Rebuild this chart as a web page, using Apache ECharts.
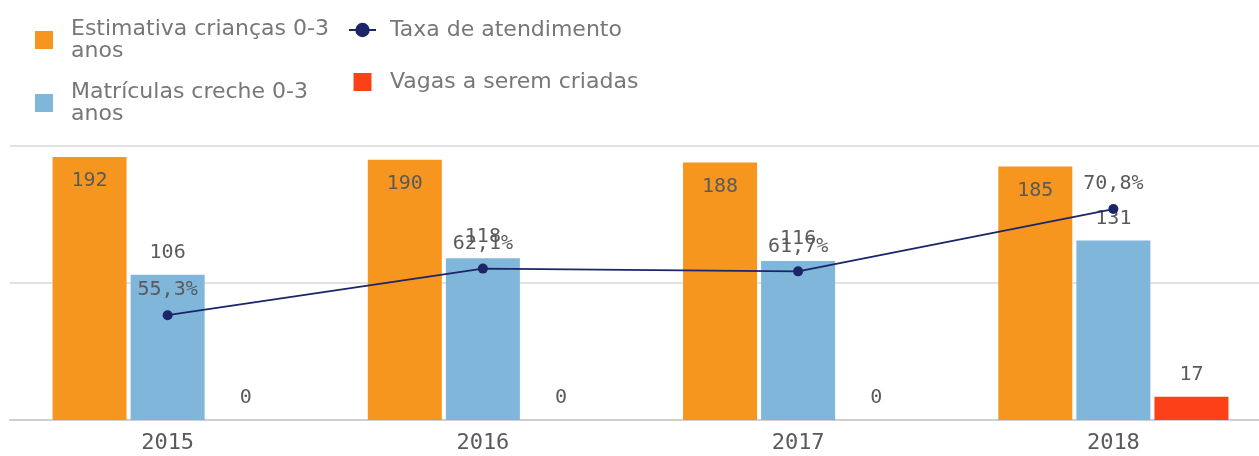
<!DOCTYPE html>
<html>
<head>
<meta charset="utf-8">
<script src="https://cdn.jsdelivr.net/npm/echarts@6/dist/echarts.min.js"></script>
<style>
  html, body { margin: 0; padding: 0; background: #fff; }
  #chart { width: 1259px; height: 456px; }
</style>
</head>
<body>
<div id="chart"></div>
<script>
const years = ["2015", "2016", "2017", "2018"];
const estimativa = [192, 190, 188, 185];
const matriculas = [106, 118, 116, 131];
const vagas = [0, 0, 0, 17];
const taxa = [55.3, 62.1, 61.7, 70.8];

const NAME_EST = "Estimativa crianças 0-3 anos";
const NAME_MAT = "Matrículas creche 0-3 anos";
const NAME_TAXA = "Taxa de atendimento";
const NAME_VAGAS = "Vagas a serem criadas";

const numFont = "DejaVu Sans Mono";
const txtFont = "DejaVu Sans";
const labelColor = "#5a5a5a";

const chart = echarts.init(document.getElementById("chart"), null, { renderer: "canvas" });

const legendText = {
  color: "#777777",
  fontFamily: txtFont,
  fontSize: 22,
  lineHeight: 22,
};

const valueLabel = (pos) => ({
  show: true,
  position: pos,
  distance: 12,
  color: labelColor,
  fontFamily: numFont,
  fontSize: 20,
});

chart.setOption({
  animation: false,
  legend: [
    {
      left: 30, top: 13, orient: "vertical", icon: "rect",
      itemWidth: 18, itemHeight: 18, itemGap: 19,
      data: [NAME_EST, NAME_MAT],
      formatter: (n) => n.replace(" anos", "\nanos"),
      textStyle: { ...legendText, padding: [0, 0, 0, 13] },
      selectedMode: false,
    },
    {
      left: 343, top: 14, orient: "vertical",
      itemWidth: 27, itemHeight: 18, itemGap: 30,
      data: [NAME_TAXA, { name: NAME_VAGAS, icon: "path://M0,0h10v10h-10z" }],
      textStyle: { ...legendText, padding: [0, 0, 0, 9] },
      selectedMode: false,
    },
  ],
  grid: { left: 10, top: 146, right: -12, bottom: 36, containLabel: false, outerBoundsMode: "none" },
  xAxis: {
    type: "category",
    data: years,
    axisTick: { show: false },
    axisLine: { lineStyle: { color: "#cfcfcf", width: 2 } },
    axisLabel: { color: labelColor, fontFamily: numFont, fontSize: 22, margin: 12 },
  },
  yAxis: [
    {
      type: "value", min: 0, max: 200, interval: 100,
      axisLabel: { show: false }, axisLine: { show: false }, axisTick: { show: false },
      splitLine: { lineStyle: { color: "#d9d9d9", width: 1.5 } },
    },
    {
      type: "value", min: 40, max: 80, interval: 20,
      axisLabel: { show: false }, axisLine: { show: false }, axisTick: { show: false },
      splitLine: { show: false },
    },
  ],
  series: [
    {
      name: NAME_EST, type: "bar", data: estimativa,
      barWidth: 74, barGap: "5.5%",
      itemStyle: { color: "#f7961e" },
      label: { ...valueLabel("insideTop"), distance: 14 },
    },
    {
      name: NAME_MAT, type: "bar", data: matriculas,
      barWidth: 74, barGap: "5.5%",
      itemStyle: { color: "#7fb6d9" },
      label: valueLabel("top"),
    },
    {
      name: NAME_VAGAS, type: "bar", data: vagas,
      barWidth: 74, barGap: "5.5%",
      itemStyle: { color: "#fc4118" },
      label: valueLabel("top"),
    },
    {
      name: NAME_TAXA, type: "line", data: taxa, yAxisIndex: 1,
      symbol: "circle", symbolSize: 10,
      lineStyle: { color: "#1b2568", width: 1.8 },
      itemStyle: { color: "#1b2568" },
      label: {
        ...valueLabel("top"), distance: 10,
        formatter: (p) => p.value.toFixed(1).replace(".", ",") + "%",
      },
      z: 5,
    },
  ],
});
</script>
</body>
</html>
